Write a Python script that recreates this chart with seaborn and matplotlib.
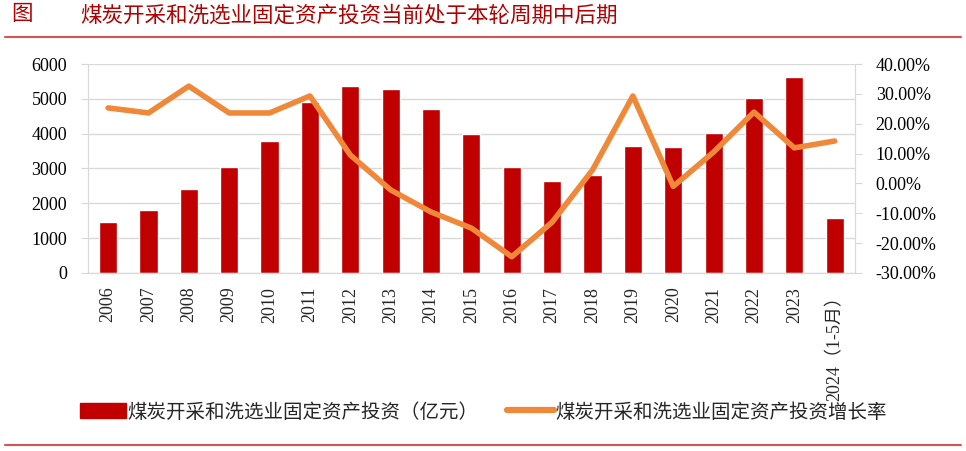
import numpy as np
import pandas as pd
import seaborn as sns
import matplotlib.pyplot as plt
from matplotlib.patches import Patch
from matplotlib.lines import Line2D
from matplotlib.ticker import FuncFormatter, MultipleLocator

years = ['2006', '2007', '2008', '2009', '2010', '2011', '2012', '2013', '2014', '2015',
         '2016', '2017', '2018', '2019', '2020', '2021', '2022', '2023', '2024（1-5月）']
invest = [1450, 1800, 2400, 3050, 3800, 4900, 5370, 5270, 4700, 4000,
          3030, 2650, 2820, 3650, 3620, 4020, 5020, 5620, 1580]
growth = [25.3, 23.6, 32.6, 23.6, 23.6, 29.3, 9.5, -2.2, -9.6, -15.0,
          -24.6, -13.0, 4.5, 29.3, -1.0, 10.5, 23.9, 11.9, 14.2]

bar_name = '煤炭开采和洗选业固定资产投资（亿元）'
line_name = '煤炭开采和洗选业固定资产投资增长率'

df = pd.DataFrame({'year': years, 'invest': invest, 'growth': growth})

sns.set_style('white')
plt.rcParams['font.family'] = ['Liberation Serif', 'Noto Sans CJK SC', 'DejaVu Sans']

fig = plt.figure(figsize=(9.66, 4.51), dpi=100)
ax = fig.add_axes([0.091, 0.395, 0.794, 0.463])

sns.barplot(data=df, x='year', y='invest', color='#C00000', width=0.45,
            saturation=1, ax=ax)
ax.set_ylim(0, 6000)
ax.yaxis.set_major_locator(MultipleLocator(1000))
ax.set_xlim(-0.5, len(years) - 0.5)
ax.grid(axis='y', color='#D9D9D9', lw=1)
ax.set_axisbelow(True)

ax2 = ax.twinx()
sns.lineplot(data=df, x='year', y='growth', color='#F0883A', lw=4, ax=ax2,
             sort=False)
ax2.set_ylim(-30, 40)
ax2.yaxis.set_major_locator(MultipleLocator(10))
ax2.yaxis.set_major_formatter(FuncFormatter(lambda v, p: f'{v:.2f}%'))
ax2.set_xlim(-0.5, len(years) - 0.5)

for a in (ax, ax2):
    a.set_xlabel('')
    a.set_ylabel('')
    for s in a.spines.values():
        s.set_color('#D9D9D9')
    a.spines['top'].set_visible(False)
    a.tick_params(axis='y', length=5, color='#D9D9D9', labelsize=13, labelcolor='black', pad=10)

ax.set_xticks(np.arange(len(years)))
ax.set_xticklabels(years, rotation=90, fontsize=13, va='top', ha='center')
ax.set_xticks(np.arange(len(years) + 1) - 0.5, minor=True)
ax.tick_params(axis='x', which='major', length=0, pad=10)
ax.tick_params(axis='x', which='minor', length=5, color='#D9D9D9')

handles = [Patch(color='#C00000', label=bar_name),
           Line2D([0], [0], color='#F0883A', lw=4.5, label=line_name)]
fig.legend(handles=handles, loc='center', bbox_to_anchor=(0.5, 0.086), ncol=2,
           frameon=False, fontsize=14, handlelength=2.4, handleheight=0.8,
           handletextpad=0.05, columnspacing=1.5)

fig.text(0.012, 0.965, '图', fontsize=15.5, color='#B00000', va='center')
fig.text(0.083, 0.965, '煤炭开采和洗选业固定资产投资当前处于本轮周期中后期', fontsize=15.5,
         color='#B00000', va='center')
fig.add_artist(Line2D([0.005, 0.995], [0.918, 0.918], color='#D9534F', lw=1.5))
fig.add_artist(Line2D([0.005, 0.995], [0.013, 0.013], color='#D9534F', lw=1.5))

fig.savefig('out.png', dpi=100)
